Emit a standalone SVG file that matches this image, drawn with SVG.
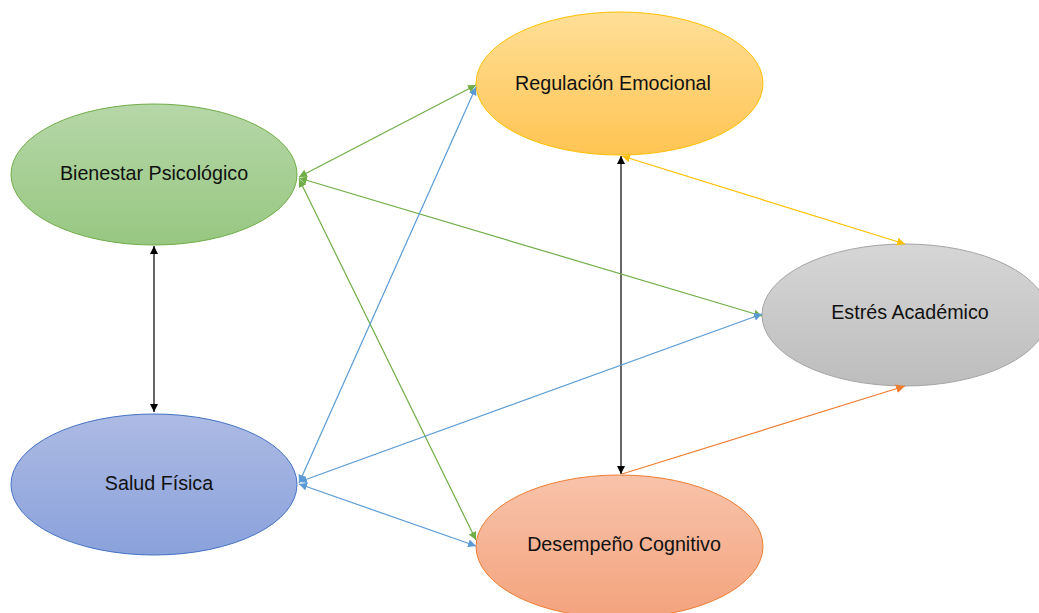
<svg xmlns="http://www.w3.org/2000/svg" width="1039" height="613" viewBox="0 0 1039 613">
<style>
text{font-family:"Liberation Sans",Arial,sans-serif;font-size:19.7px;fill:#111;text-anchor:middle}
.c{fill:none;stroke-width:1.2}
</style>
<defs>
<linearGradient id="gG" x1="0" y1="0" x2="0" y2="1"><stop offset="0" stop-color="#b6d7a8"/><stop offset="1" stop-color="#97c781"/></linearGradient>
<linearGradient id="gB" x1="0" y1="0" x2="0" y2="1"><stop offset="0" stop-color="#adbbe4"/><stop offset="1" stop-color="#8aa1db"/></linearGradient>
<linearGradient id="gY" x1="0" y1="0" x2="0" y2="1"><stop offset="0" stop-color="#ffdf97"/><stop offset="1" stop-color="#ffc453"/></linearGradient>
<linearGradient id="gR" x1="0" y1="0" x2="0" y2="1"><stop offset="0" stop-color="#d6d6d6"/><stop offset="1" stop-color="#bdbdbd"/></linearGradient>
<linearGradient id="gO" x1="0" y1="0" x2="0" y2="1"><stop offset="0" stop-color="#f8c3ab"/><stop offset="1" stop-color="#f4a37d"/></linearGradient>
<marker id="mK" viewBox="0 0 10 10" refX="10" refY="5" markerWidth="8" markerHeight="8" markerUnits="userSpaceOnUse" orient="auto-start-reverse"><path d="M0,0L10,5L0,10z" fill="#000"/></marker>
<marker id="mG" viewBox="0 0 10 10" refX="10" refY="5" markerWidth="8" markerHeight="8" markerUnits="userSpaceOnUse" orient="auto-start-reverse"><path d="M0,0L10,5L0,10z" fill="#70ad47"/></marker>
<marker id="mB" viewBox="0 0 10 10" refX="10" refY="5" markerWidth="8" markerHeight="8" markerUnits="userSpaceOnUse" orient="auto-start-reverse"><path d="M0,0L10,5L0,10z" fill="#5b9bd5"/></marker>
<marker id="mY" viewBox="0 0 10 10" refX="10" refY="5" markerWidth="8" markerHeight="8" markerUnits="userSpaceOnUse" orient="auto-start-reverse"><path d="M0,0L10,5L0,10z" fill="#ffc000"/></marker>
<marker id="mO" viewBox="0 0 10 10" refX="10" refY="5" markerWidth="9" markerHeight="9" markerUnits="userSpaceOnUse" orient="auto-start-reverse"><path d="M0,0L10,5L0,10z" fill="#ed7d31"/></marker>
</defs>
<g id="n-bienestar"><ellipse cx="154" cy="174.5" rx="143" ry="70.5" fill="url(#gG)" stroke="#70ad47"/><text x="154" y="180">Bienestar Psicológico</text></g>
<g id="n-salud"><ellipse cx="154" cy="484.5" rx="143" ry="70.5" fill="url(#gB)" stroke="#4472c4"/><text x="159" y="490">Salud Física</text></g>
<g id="n-regulacion"><ellipse cx="619.5" cy="83.5" rx="143.5" ry="71.5" fill="url(#gY)" stroke="#ffc000"/><text x="613" y="90">Regulación Emocional</text></g>
<g id="n-estres"><ellipse cx="905" cy="315" rx="143" ry="71" fill="url(#gR)" stroke="#a5a5a5"/><text x="910" y="319">Estrés Académico</text></g>
<g id="n-desempeno"><ellipse cx="619.5" cy="546.5" rx="143.5" ry="71.5" fill="url(#gO)" stroke="#ed7d31"/><text x="624" y="551">Desempeño Cognitivo</text></g>
<g id="connectors">
<line class="c" x1="154" y1="246" x2="154" y2="412" stroke="#000" marker-start="url(#mK)" marker-end="url(#mK)"/>
<line class="c" x1="621" y1="156" x2="621" y2="474" stroke="#000" marker-start="url(#mK)" marker-end="url(#mK)"/>
<line class="c" x1="299" y1="177" x2="476" y2="85" stroke="#70ad47" marker-start="url(#mG)" marker-end="url(#mG)"/>
<line class="c" x1="299" y1="178" x2="762" y2="316" stroke="#70ad47" marker-start="url(#mG)" marker-end="url(#mG)"/>
<line class="c" x1="299" y1="179" x2="476" y2="540" stroke="#70ad47" marker-start="url(#mG)" marker-end="url(#mG)"/>
<line class="c" x1="299" y1="483" x2="476" y2="87" stroke="#5b9bd5" marker-start="url(#mB)" marker-end="url(#mB)"/>
<line class="c" x1="299" y1="482" x2="762" y2="314" stroke="#5b9bd5" marker-start="url(#mB)" marker-end="url(#mB)"/>
<line class="c" x1="299" y1="484" x2="476" y2="546" stroke="#5b9bd5" marker-start="url(#mB)" marker-end="url(#mB)"/>
<line class="c" x1="622" y1="156" x2="905" y2="244" stroke="#ffc000" marker-start="url(#mY)" marker-end="url(#mY)"/>
<line class="c" x1="622" y1="474" x2="905" y2="386" stroke="#ed7d31" stroke-width="2" marker-end="url(#mO)"/>
</g>
</svg>
